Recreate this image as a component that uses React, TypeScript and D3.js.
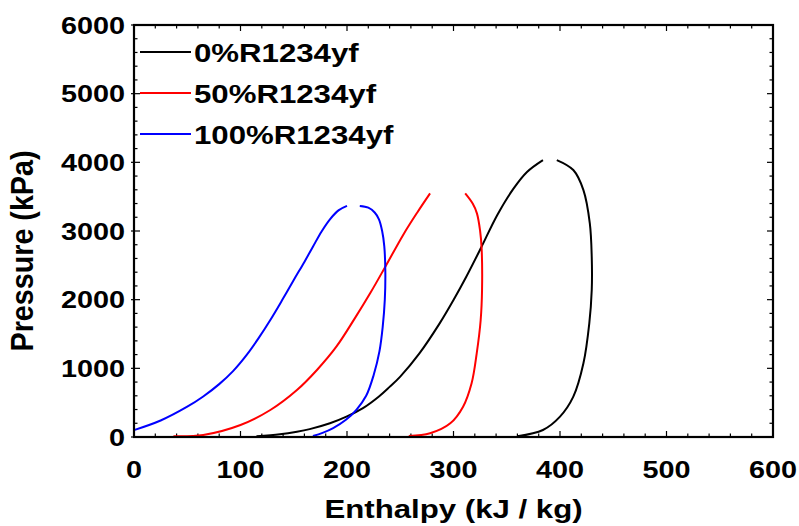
import React from 'react';
import * as d3 from 'd3';

const hTicks = [0, 100, 200, 300, 400, 500, 600];
const pTicks = [0, 1000, 2000, 3000, 4000, 5000, 6000];

const seriesNames = ['0%R1234yf', '50%R1234yf', '100%R1234yf'];
const seriesColors = ['#000000', '#ff0000', '#0000ff'];

// saturated liquid branch, [enthalpy kJ/kg, pressure kPa]
const liquid0 = [[115, 12], [137, 40], [153, 77], [165, 115], [184, 200], [200, 300], [215, 420], [230, 590], [240, 730], [250, 880], [268, 1218], [287, 1655], [300, 1995], [312, 2334], [326, 2760], [341, 3230], [356, 3610], [369, 3860], [384, 4033]];
const liquid50 = [[37, 12], [65, 30], [100, 175], [128, 393], [153, 684], [172, 980], [190, 1315], [207, 1720], [222, 2100], [236, 2480], [253, 2950], [266, 3270], [278, 3548]];
const liquid100 = [[0, 100], [25, 240], [50, 441], [65, 590], [80, 770], [93, 960], [106, 1200], [117, 1440], [128, 1704], [139, 1990], [150, 2286], [160, 2550], [168, 2771], [176, 2990], [184, 3170], [192, 3300], [200, 3365]];

// saturated vapour branch, [enthalpy kJ/kg, pressure kPa]
const vapor0 = [[360, 12], [384, 102], [400, 296], [412.5, 587], [422, 1073], [427.5, 1655], [429.8, 2140], [429.8, 2625], [428, 3111], [422, 3596], [412.5, 3888], [397, 4033]];
const vapor50 = [[258, 15], [278, 54], [297, 199], [309, 441], [317, 782], [321.8, 1218], [325.5, 1700], [326.8, 2140], [326.4, 2750], [325, 3000], [322, 3257], [318, 3400], [311, 3548]];
const vapor100 = [[168, 15], [177, 60], [187, 130], [199, 250], [209, 400], [218, 600], [225, 900], [230.5, 1250], [233.5, 1600], [235.5, 2000], [236, 2400], [235, 2780], [233, 3000], [230, 3170], [226, 3270], [220, 3340], [212, 3365]];

const liquids = [liquid0, liquid50, liquid100];
const vapors = [vapor0, vapor50, vapor100];

const W = 799;
const H = 526;
const margin = { top: 25, right: 26, bottom: 89, left: 134 };
const font = '"Liberation Sans", Arial, sans-serif';
const stretch = 1.2;

export default function App() {
  const x = d3.scaleLinear().domain([0, 600]).range([margin.left, W - margin.right]);
  const y = d3.scaleLinear().domain([0, 6000]).range([H - margin.bottom, margin.top]);

  const line = d3.line<number[]>().x(d => x(d[0])).y(d => y(d[1])).curve(d3.curveCatmullRom.alpha(0.5));

  const x0 = margin.left, x1 = W - margin.right;
  const y0 = H - margin.bottom, y1 = margin.top;

  const minorX = d3.range(0, 601, 20).filter(v => v % 100 !== 0);
  const minorY = d3.range(0, 6001, 200).filter(v => v % 1000 !== 0);

  return (
    <svg width={W} height={H} style={{ position: 'absolute', left: 0, top: 0, background: '#fff' }}>
      <g stroke="#000" strokeWidth={1.2}>
        {minorX.map(v => (
          <g key={'mx' + v}>
            <line x1={x(v)} x2={x(v)} y1={y0} y2={y0 - 3.5} />
            <line x1={x(v)} x2={x(v)} y1={y1} y2={y1 + 3.5} />
          </g>
        ))}
        {hTicks.map(v => (
          <g key={'Mx' + v}>
            <line x1={x(v)} x2={x(v)} y1={y0} y2={y0 - 6} />
            <line x1={x(v)} x2={x(v)} y1={y1} y2={y1 + 6} />
          </g>
        ))}
        {minorY.map(v => (
          <g key={'my' + v}>
            <line x1={x0} x2={x0 + 3.5} y1={y(v)} y2={y(v)} />
            <line x1={x1} x2={x1 - 3.5} y1={y(v)} y2={y(v)} />
          </g>
        ))}
        {pTicks.map(v => (
          <g key={'My' + v}>
            <line x1={x0 - 3} x2={x0 + 6} y1={y(v)} y2={y(v)} />
            <line x1={x1} x2={x1 - 6} y1={y(v)} y2={y(v)} />
          </g>
        ))}
      </g>

      {liquids.map((d, i) => (
        <path key={'l' + i} d={line(d) || ''} fill="none" stroke={seriesColors[i]} strokeWidth={2} />
      ))}
      {vapors.map((d, i) => (
        <path key={'v' + i} d={line(d) || ''} fill="none" stroke={seriesColors[i]} strokeWidth={2} />
      ))}

      <rect x={x0} y={y1} width={x1 - x0} height={y0 - y1} fill="none" stroke="#000" strokeWidth={2.2} />

      <g fontFamily={font} fontWeight="bold" fontSize={24} fill="#000">
        {pTicks.map(v => (
          <text key={'py' + v} textAnchor="end" transform={`translate(${x0 - 9},${y(v) + 8.5}) scale(${stretch},1)`}>{v}</text>
        ))}
        {hTicks.map(v => (
          <text key={'hx' + v} textAnchor="middle" transform={`translate(${x(v)},${y0 + 41}) scale(${stretch},1)`}>{v}</text>
        ))}
      </g>

      <text fontFamily={font} fontWeight="bold" fontSize={26} textAnchor="middle"
        transform={`translate(${(x0 + x1) / 2},${H - 8}) scale(${stretch},1)`}>Enthalpy (kJ / kg)</text>
      <text fontFamily={font} fontWeight="bold" fontSize={26} textAnchor="middle"
        textLength={201} lengthAdjust="spacingAndGlyphs"
        transform={`translate(33,${251}) scale(${stretch},1) rotate(-90)`}>Pressure (kPa)</text>

      <g fontFamily={font} fontWeight="bold" fontSize={26}>
        {seriesNames.map((name, i) => {
          const ly = 52 + i * 41;
          return (
            <g key={name}>
              <line x1={140} x2={191} y1={ly} y2={ly} stroke={seriesColors[i]} strokeWidth={2} />
              <text transform={`translate(194,${ly + 10}) scale(${stretch},1)`}>{name}</text>
            </g>
          );
        })}
      </g>
    </svg>
  );
}
